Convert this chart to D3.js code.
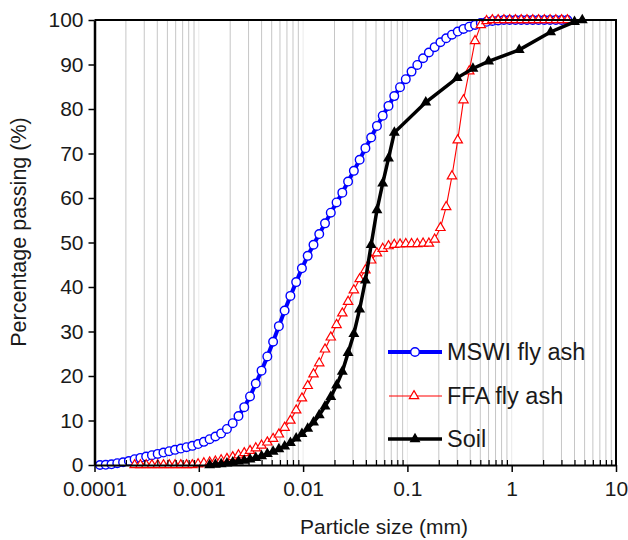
<!DOCTYPE html>
<html>
<head>
<meta charset="utf-8">
<script src="https://cdn.jsdelivr.net/npm/d3@7"></script>
<style>
  body { margin: 0; background: #fff; }
  text { font-family: "Liberation Sans", Arial, sans-serif; fill: #1a1a1a; }
</style>
</head>
<body>
<div id="chart"></div>
<script>
const width = 628;
const height = 540;

// laser diffraction bins (mm)
const laserSize = [
  0.0001129, 0.0001282, 0.0001456, 0.0001654, 0.0001879, 0.0002135, 0.0002425, 0.0002754,
  0.0003128, 0.0003553, 0.0004036, 0.0004585, 0.0005207, 0.0005915, 0.0006719, 0.0007631,
  0.0008668, 0.0009842, 0.001118, 0.00127, 0.001442, 0.001638, 0.001861, 0.002114,
  0.002401, 0.002727, 0.003098, 0.003518, 0.003996, 0.00454, 0.005157, 0.005857,
  0.006652, 0.007556, 0.008583, 0.009747, 0.01107, 0.01258, 0.01428, 0.01622,
  0.01842, 0.02093, 0.02377, 0.027, 0.03067, 0.03484, 0.03957, 0.04494,
  0.05105, 0.05799, 0.06587, 0.07482, 0.08498, 0.09652, 0.1096, 0.1245,
  0.1414, 0.1607, 0.1825, 0.2073, 0.2354, 0.2674, 0.3038, 0.345,
  0.3919, 0.4452, 0.5057, 0.5743, 0.6523, 0.741, 0.8416, 0.9559,
  1.086, 1.233, 1.401, 1.591, 1.807, 2.053, 2.331, 2.648, 3.008, 3.417
];

const mswiPass = [
  0, 0.05, 0.15, 0.4, 0.6, 0.9, 1.3, 1.6, 1.9, 2.2, 2.5, 2.8, 3.1, 3.4, 3.7, 4.0,
  4.3, 4.7, 5.2, 5.8, 6.4, 7.1, 8.1, 9.4, 11.0, 13.0, 15.4, 18.3, 21.2, 24.4, 27.7, 31.2,
  34.7, 38.0, 41.1, 44.2, 47.0, 49.5, 51.9, 54.3, 56.7, 59.0, 61.2, 63.7, 66.1, 68.6, 71.2, 73.6,
  76.2, 78.5, 80.7, 82.9, 84.9, 86.7, 88.4, 89.9, 91.4, 92.7, 93.9, 95.0, 95.9, 96.7, 97.4, 98.0,
  98.5, 98.9, 99.3, 99.6, 99.8, 99.9, 100, 100, 100, 100, 100, 100, 100, 100, 100, 100, 100, 100
];

const ffaPass = [
  null, null, null, null, null, null, 0, 0, 0, 0, 0, 0, 0, 0, 0, 0,
  0, 0.2, 0.4, 0.6, 0.8, 1.1, 1.4, 1.8, 2.2, 2.7, 3.2, 3.8, 4.4, 5.1, 5.9, 6.9,
  8.4, 10.0, 12.3, 15.0, 17.8, 20.4, 22.9, 26.0, 28.7, 31.5, 34.1, 36.7, 39.3, 41.8, 43.8, 46.0,
  47.6, 48.6, 49.2, 49.5, 49.6, 49.7, 49.7, 49.7, 49.8, 49.8, 50.7, 53.3, 58.0, 64.9, 73.0, 82.0,
  88.5, 95.3, 98.9, 99.8, 100, 100, 100, 100, 100, 100, 100, 100, 100, 100, 100, 100, 100, 100
];

const soilSize = [
  0.00127, 0.001442, 0.001638, 0.001861, 0.002114, 0.002401, 0.002727, 0.003098,
  0.003518, 0.003996, 0.00454, 0.005157, 0.005857, 0.006652, 0.007556, 0.008583,
  0.009747, 0.01107, 0.01258, 0.01428, 0.01622, 0.01842, 0.02093, 0.02377,
  0.027, 0.03067, 0.03484, 0.03957, 0.04494, 0.05105, 0.05799, 0.06587,
  0.075, 0.15, 0.3, 0.425, 0.6, 1.18, 2.36, 4.0, 4.75
];

const soilPass = [
  0, 0.1, 0.2, 0.4, 0.6, 0.8, 1.0, 1.3, 1.6, 2.0, 2.5, 3.0, 3.6, 4.2, 5.0, 6.0,
  7.0, 8.2, 9.6, 11.2, 13.2, 15.3, 17.9, 21.0, 25.2, 29.5, 35.0, 41.5, 49.5, 57.3, 63.3, 68.9,
  74.7, 81.5, 87.0, 89.1, 90.7, 93.3, 97.3, 99.6, 100
];

const xTickValues = [0.0001, 0.001, 0.01, 0.1, 1, 10];
const xTickLabels = ["0.0001", "0.001", "0.01", "0.1", "1", "10"];
const yTickValues = [0, 10, 20, 30, 40, 50, 60, 70, 80, 90, 100];

const seriesNames = ["MSWI fly ash", "FFA fly ash", "Soil"];

const x = d3.scaleLog().domain([0.0001, 10]).range([94.5, 616]);
const y = d3.scaleLinear().domain([0, 100]).range([465, 20]);

const svg = d3
  .select("#chart")
  .append("svg")
  .attr("width", width)
  .attr("height", height);

// vertical grid
const minorValues = [];
xTickValues.slice(0, -1).forEach((d) => {
  for (let m = 2; m <= 9; m++) minorValues.push(d * m);
});

svg
  .append("g")
  .selectAll("line")
  .data(xTickValues.slice(1, -1))
  .join("line")
  .attr("x1", (d) => x(d))
  .attr("x2", (d) => x(d))
  .attr("y1", y(100))
  .attr("y2", y(0))
  .attr("stroke", "#ebebeb")
  .attr("stroke-width", 1);

svg
  .append("g")
  .selectAll("line")
  .data(minorValues)
  .join("line")
  .attr("x1", (d) => x(d))
  .attr("x2", (d) => x(d))
  .attr("y1", y(100))
  .attr("y2", y(0))
  .attr("stroke", "#c6c6c6")
  .attr("stroke-width", 1);

const line = d3
  .line()
  .x((d) => x(d.size))
  .y((d) => y(d.pass));

const mswi = laserSize.map((s, i) => ({ size: s, pass: mswiPass[i] }));
const ffa = laserSize
  .map((s, i) => ({ size: s, pass: ffaPass[i] }))
  .filter((d) => d.pass != null);
const soil = soilSize.map((s, i) => ({ size: s, pass: soilPass[i] }));

const triRed = d3.symbol(d3.symbolTriangle, 38);
const triBlack = d3.symbol(d3.symbolTriangle, 52);

// MSWI fly ash
svg
  .append("path")
  .datum(mswi)
  .attr("d", line)
  .attr("fill", "none")
  .attr("stroke", "#0000ff")
  .attr("stroke-width", 4);

svg
  .append("g")
  .selectAll("circle")
  .data(mswi)
  .join("circle")
  .attr("cx", (d) => x(d.size))
  .attr("cy", (d) => y(d.pass))
  .attr("r", 4.3)
  .attr("fill", "#fff")
  .attr("stroke", "#0000ff")
  .attr("stroke-width", 1.4);

// FFA fly ash
svg
  .append("path")
  .datum(ffa)
  .attr("d", line)
  .attr("fill", "none")
  .attr("stroke", "#ff0000")
  .attr("stroke-width", 1.1);

svg
  .append("g")
  .selectAll("path")
  .data(ffa)
  .join("path")
  .attr("d", triRed)
  .attr("transform", (d) => `translate(${x(d.size)},${y(d.pass)})`)
  .attr("fill", "#fff")
  .attr("stroke", "#ff0000")
  .attr("stroke-width", 1.2);

// Soil
svg
  .append("path")
  .datum(soil)
  .attr("d", line)
  .attr("fill", "none")
  .attr("stroke", "#000")
  .attr("stroke-width", 3.5);

svg
  .append("g")
  .selectAll("path")
  .data(soil)
  .join("path")
  .attr("d", triBlack)
  .attr("transform", (d) => `translate(${x(d.size)},${y(d.pass)})`)
  .attr("fill", "#000");

// axes
const xAxis = svg
  .append("g")
  .attr("transform", `translate(0,${y(0)})`)
  .call(
    d3
      .axisBottom(x)
      .tickValues(xTickValues)
      .tickFormat((d, i) => xTickLabels[i])
      .tickSizeInner(7)
      .tickSizeOuter(0)
      .tickPadding(9)
  );
xAxis.select(".domain").attr("stroke", "#000").attr("stroke-width", 2);
xAxis.selectAll(".tick line").attr("stroke", "#000").attr("stroke-width", 1.5);
xAxis.selectAll(".tick text").attr("font-size", 21).attr("fill", "#1a1a1a");

svg
  .append("g")
  .attr("transform", `translate(0,${y(0)})`)
  .call(d3.axisBottom(x).tickValues(minorValues).tickFormat("").tickSizeInner(-5).tickSizeOuter(0))
  .call((g) => g.select(".domain").remove())
  .selectAll(".tick line")
  .attr("stroke", "#000")
  .attr("stroke-width", 1.2);

const yAxis = svg
  .append("g")
  .attr("transform", `translate(${x(0.0001)},0)`)
  .call(d3.axisLeft(y).tickValues(yTickValues).tickSizeInner(6).tickSizeOuter(0).tickPadding(5));
yAxis.select(".domain").attr("stroke", "#000").attr("stroke-width", 2.5);
yAxis.selectAll(".tick line").attr("stroke", "#000").attr("stroke-width", 1.5);
yAxis.selectAll(".tick text").attr("font-size", 21).attr("fill", "#1a1a1a");

// frame top and right
svg
  .append("path")
  .attr("d", `M${x(0.0001)},${y(100)}H${x(10)}V${y(0)}`)
  .attr("fill", "none")
  .attr("stroke", "#000")
  .attr("stroke-width", 2);

// axis titles
svg
  .append("text")
  .attr("x", 384)
  .attr("y", 534)
  .attr("text-anchor", "middle")
  .attr("font-size", 21)
  .text("Particle size (mm)");

svg
  .append("text")
  .attr("transform", "translate(26,232) rotate(-90)")
  .attr("text-anchor", "middle")
  .attr("font-size", 21.5)
  .text("Percentage passing (%)");

// legend
const legendY = [352, 396, 439];
const legend = svg.append("g");

legend
  .append("line")
  .attr("x1", 388).attr("x2", 442)
  .attr("y1", legendY[0]).attr("y2", legendY[0])
  .attr("stroke", "#0000ff").attr("stroke-width", 4);
legend
  .append("circle")
  .attr("cx", 415).attr("cy", legendY[0]).attr("r", 4.3)
  .attr("fill", "#fff").attr("stroke", "#0000ff").attr("stroke-width", 1.4);

legend
  .append("line")
  .attr("x1", 389).attr("x2", 442)
  .attr("y1", legendY[1]).attr("y2", legendY[1])
  .attr("stroke", "#ff0000").attr("stroke-width", 1.1);
legend
  .append("path")
  .attr("d", triRed)
  .attr("transform", `translate(414,${legendY[1]})`)
  .attr("fill", "#fff").attr("stroke", "#ff0000").attr("stroke-width", 1.2);

legend
  .append("line")
  .attr("x1", 388).attr("x2", 442)
  .attr("y1", legendY[2]).attr("y2", legendY[2])
  .attr("stroke", "#000").attr("stroke-width", 3.5);
legend
  .append("path")
  .attr("d", triBlack)
  .attr("transform", `translate(415,${legendY[2]})`)
  .attr("fill", "#000");

legend
  .selectAll("text")
  .data(seriesNames)
  .join("text")
  .attr("x", 447)
  .attr("y", (d, i) => legendY[i])
  .attr("dy", "0.35em")
  .attr("font-size", 23.5)
  .text((d) => d);
</script>
</body>
</html>
